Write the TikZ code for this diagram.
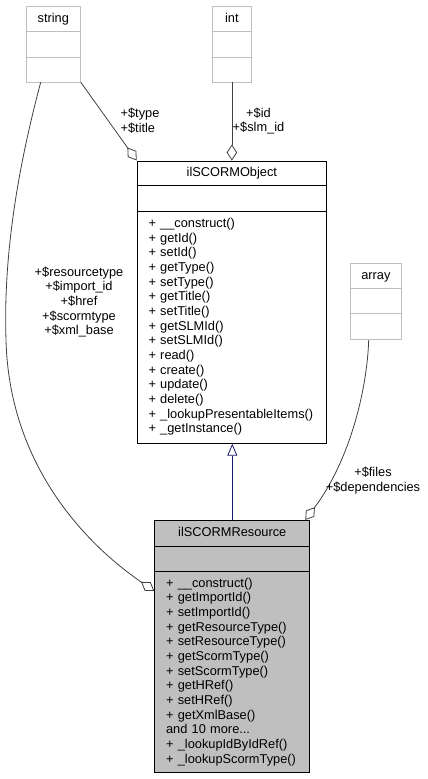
\documentclass[tikz,border=0pt]{standalone}
\usepackage{fontspec}
\setmainfont{Liberation Sans}
\usetikzlibrary{arrows.meta,calc}
\definecolor{boxgray}{HTML}{BFBFBF}
\definecolor{edgegray}{HTML}{404040}
\definecolor{navyline}{HTML}{191970}
\begin{document}
\begin{tikzpicture}[x=1pt,y=1pt,
  font=\fontsize{12.8}{14.66}\selectfont,
  compbase/.style={rectangle, anchor=north west, inner sep=0pt},
  lightcomp/.style={compbase, draw=boxgray, line width=0.8pt, text height=9pt, text depth=2.5pt},
  darkcomp/.style={compbase, draw=black, line width=1pt, text height=9pt, text depth=2.5pt},
  methcomp/.style={compbase, draw=black, line width=1pt, align=left, inner xsep=11.3pt, inner ysep=0pt},
  resfill/.style={fill=boxgray},
  agg/.style={draw=edgegray, line width=0.8pt, -{Diamond[open,length=16pt,width=10.5pt]}},
  inh/.style={draw=navyline, line width=0.8pt, -{Triangle[open,length=12pt,width=10pt]}},
  lbl/.style={inner sep=0pt}]
\useasboundingbox (0,0) rectangle (428,-779);

% string
\node[lightcomp, minimum width=54.3pt, minimum height=25.3pt] (strT) at (25.7,-5.7) {string};
\node[lightcomp, minimum width=54.3pt, minimum height=25.5pt] (strA) at (25.7,-31) {};
\node[lightcomp, minimum width=54.3pt, minimum height=25pt] (strM) at (25.7,-56.5) {};

% int
\node[lightcomp, minimum width=39pt, minimum height=25.3pt] (intT) at (212,-5.7) {int};
\node[lightcomp, minimum width=39pt, minimum height=25.5pt] (intA) at (212,-31) {};
\node[lightcomp, minimum width=39pt, minimum height=25pt] (intM) at (212,-56.5) {};

% array
\node[lightcomp, minimum width=51pt, minimum height=25.6pt] (arrT) at (350,-262.7) {array};
\node[lightcomp, minimum width=51pt, minimum height=25pt] (arrA) at (350,-288.3) {};
\node[lightcomp, minimum width=51pt, minimum height=26pt] (arrM) at (350,-313.3) {};

% ilSCORMObject
\node[darkcomp, minimum width=189.3pt, minimum height=24.5pt] (objT) at (136.7,-160.5) {ilSCORMObject};
\node[darkcomp, minimum width=189.3pt, minimum height=26pt] (objA) at (136.7,-185) {};
\node[methcomp, text width=166.7pt, minimum height=231.7pt] (objM) at (136.7,-211)
 {\strut+ \_\_construct()\\
  + getId()\\
  + setId()\\
  + getType()\\
  + setType()\\
  + getTitle()\\
  + setTitle()\\
  + getSLMId()\\
  + setSLMId()\\
  + read()\\
  + create()\\
  + update()\\
  + delete()\\
  + \_lookupPresentableItems()\\
  + \_getInstance()\strut};

% ilSCORMResource
\node[darkcomp, resfill, minimum width=155pt, minimum height=26pt] (resT) at (154.3,-520) {ilSCORMResource};
\node[darkcomp, resfill, minimum width=155pt, minimum height=25.3pt] (resA) at (154.3,-546) {};
\node[methcomp, resfill, text width=132.4pt, minimum height=201pt] (resM) at (154.3,-571.3)
 {\strut+ \_\_construct()\\
  + getImportId()\\
  + setImportId()\\
  + getResourceType()\\
  + setResourceType()\\
  + getScormType()\\
  + setScormType()\\
  + getHRef()\\
  + setHRef()\\
  + getXmlBase()\\
  and 10 more...\\
  + \_lookupIdByIdRef()\\
  + \_lookupScormType()\strut};

% connectors
\draw[agg] ($(strM.south west)+(15,0)$)
   .. controls (20,-160) and (3,-250) .. (6,-340)
   .. controls (9,-460) and (80,-540) .. ($(resM.north west)+(0,-19.7)$);
\draw[agg] (strM.south east) -- (objT.north west);
\draw[agg] (intM.south) -- (intM.south |- objT.north);
\draw[agg] ($(arrM.south)+(-7.2,0)$)
   .. controls (367,-390) and (350,-460) .. ($(resT.north east)+(-5,0)$);
\draw[inh] (resT.north) -- (resT.north |- objM.south);

% labels
\node[lbl, align=left] (lblTT) at (140,-121) {+\$type\\+\$title};
\node[lbl, align=center] (lblId) at (258.5,-121) {+\$id\\+\$slm\_id};
\node[lbl, align=center] (lblRes) at (79,-302) {+\$resourcetype\\+\$import\_id\\+\$href\\+\$scormtype\\+\$xml\_base};
\node[lbl, align=center] (lblFiles) at (373,-480.5) {+\$files\\+\$dependencies};
\end{tikzpicture}
\end{document}
